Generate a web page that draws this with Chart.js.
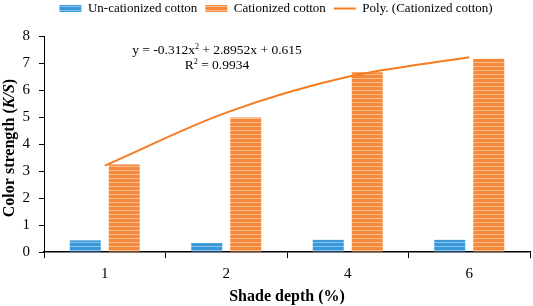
<!DOCTYPE html>
<html><head><meta charset="utf-8">
<script src="https://cdn.jsdelivr.net/npm/chart.js@4.4.1/dist/chart.umd.min.js"></script>
<style>html,body{margin:0;padding:0;background:#fff}#wrap{width:533px;height:306px}</style>
</head><body><div id="wrap"><canvas id="c" width="533" height="306"></canvas></div>
<script>
const categories = ['1', '2', '4', '6'];
const unCationized = [0.43, 0.33, 0.45, 0.45];
const cationized = [3.24, 4.98, 6.66, 7.16];
const polyTrend = [3.20, 5.16, 6.49, 7.21];
const yTicks = [0, 1, 2, 3, 4, 5, 6, 7, 8];
const seriesNames = ['Un-cationized cotton', 'Cationized cotton', 'Poly. (Cationized cotton)'];
const equationText = ['y = -0.312x', '2', ' + 2.8952x + 0.615'];
const r2Text = ['R', '2', ' = 0.9934'];

const FONT = '"Liberation Serif", "Times New Roman", serif';

function stripe(dark, light) {
  const p = document.createElement('canvas');
  p.width = 4; p.height = 4;
  const g = p.getContext('2d');
  g.fillStyle = dark; g.fillRect(0, 0, 4, 4);
  g.fillStyle = light; g.fillRect(0, 2, 4, 1);
  return g.createPattern(p, 'repeat');
}
const ctx = document.getElementById('c').getContext('2d');
const bluePat = stripe('#3A98D8', '#86C4EE');
const orangePat = stripe('#F6883A', '#FBBE92');

const textPlugin = {
  id: 'texts',
  afterDraw(chart) {
    const c = chart.ctx;
    c.save();
    c.fillStyle = '#000';
    function drawSup(parts, cx, y, size) {
      c.font = size + 'px ' + FONT;
      const w0 = c.measureText(parts[0]).width;
      const w2 = c.measureText(parts[2]).width;
      c.font = Math.round(size * 0.62) + 'px ' + FONT;
      const w1 = c.measureText(parts[1]).width;
      let x = cx - (w0 + w1 + w2) / 2;
      c.textBaseline = 'alphabetic';
      c.textAlign = 'left';
      c.font = size + 'px ' + FONT;
      c.fillText(parts[0], x, y); x += w0;
      c.font = Math.round(size * 0.62) + 'px ' + FONT;
      c.fillText(parts[1], x, y - size * 0.38); x += w1;
      c.font = size + 'px ' + FONT;
      c.fillText(parts[2], x, y);
    }
    drawSup(equationText, 217, 54, 13.5);
    drawSup(r2Text, 217, 69, 13.5);
    c.translate(10, 148);
    c.rotate(-Math.PI / 2);
    const a = 'Color strength (', b = 'K/S', d = ')';
    c.font = 'bold 16px ' + FONT;
    const wa = c.measureText(a).width, wd = c.measureText(d).width;
    c.font = 'italic bold 16px ' + FONT;
    const wb = c.measureText(b).width;
    let x = -(wa + wb + wd) / 2;
    c.textBaseline = 'middle';
    c.textAlign = 'left';
    c.font = 'bold 16px ' + FONT; c.fillText(a, x, 0); x += wa;
    c.font = 'italic bold 16px ' + FONT; c.fillText(b, x, 0); x += wb;
    c.font = 'bold 16px ' + FONT; c.fillText(d, x, 0);
    c.restore();
  }
};

new Chart(ctx, {
  type: 'bar',
  data: {
    labels: categories,
    datasets: [
      { label: seriesNames[0], data: unCationized, backgroundColor: bluePat, borderWidth: 0, order: 2,
        categoryPercentage: 0.642, barPercentage: 0.795 },
      { label: seriesNames[1], data: cationized, backgroundColor: orangePat, borderWidth: 0, order: 2,
        categoryPercentage: 0.642, barPercentage: 0.795 },
      { type: 'line', label: seriesNames[2], data: polyTrend, borderColor: '#F57C21', borderWidth: 2,
        pointRadius: 0, cubicInterpolationMode: 'monotone', fill: false, order: 0 }
    ]
  },
  options: {
    responsive: false,
    animation: false,
    devicePixelRatio: 1,
    layout: { padding: { top: -6, right: 3, left: 22, bottom: 0 } },
    plugins: {
      tooltip: { enabled: false },
      title: { display: true, text: '', font: { size: 1, lineHeight: 1 }, padding: { top: 0, bottom: 10 } },
      legend: {
        position: 'top',
        weight: 3000,
        labels: {
          font: { family: FONT, size: 13 },
          color: '#000',
          padding: 8,
          boxHeight: 7,
          usePointStyle: true,
          pointStyleWidth: 22,
          generateLabels(chart) {
            return chart.data.datasets.map((ds, i) => ({
              text: ds.label,
              datasetIndex: i,
              fillStyle: i === 0 ? bluePat : (i === 1 ? orangePat : '#F57C21'),
              strokeStyle: i === 2 ? '#F57C21' : 'rgba(0,0,0,0)',
              lineWidth: i === 2 ? 2 : 0,
              pointStyle: i === 2 ? 'line' : 'rect',
              hidden: false
            }));
          }
        }
      }
    },
    scales: {
      x: {
        grid: { display: true, drawOnChartArea: false, drawTicks: true, tickLength: 6, tickColor: '#000', offset: true },
        border: { display: true, color: '#000', width: 1.5 },
        ticks: { font: { family: FONT, size: 15 }, color: '#000', padding: 7 },
        title: { display: true, text: 'Shade depth (%)', font: { family: FONT, size: 16, weight: 'bold' }, color: '#000', padding: { top: 2, bottom: 0 } },
        afterFit(s) { s.height = 54; }
      },
      y: {
        min: 0, max: 8,
        afterBuildTicks(s) { s.ticks = yTicks.map(v => ({ value: v })); },
        grid: { display: true, drawOnChartArea: false, drawTicks: true, tickLength: 5, tickColor: '#000' },
        border: { display: true, color: '#000', width: 1 },
        ticks: { font: { family: FONT, size: 15 }, color: '#000', padding: 9 },
        afterFit(s) { s.width = 22; }
      }
    }
  },
  plugins: [textPlugin]
});
</script></body></html>
